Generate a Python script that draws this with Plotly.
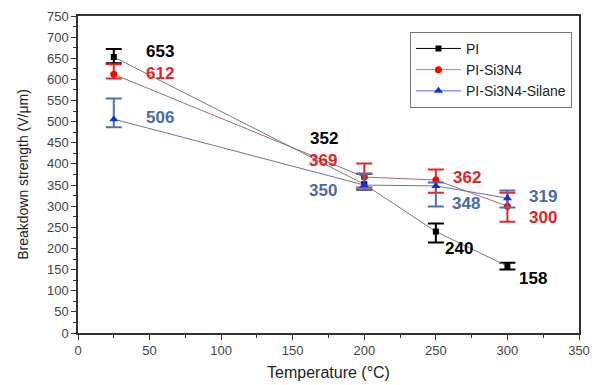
import plotly.graph_objects as go

temps = [25, 200, 250, 300]
pi_vals = [653, 352, 240, 158]
pi_err_plus = [19, 25, 19, 8]
pi_err_minus = [15, 13, 26, 8]
si_vals = [612, 369, 362, 300]
si_err_plus = [24, 32, 25, 32]
si_err_minus = [10, 25, 30, 37]
sil_vals = [506, 350, 348, 319]
sil_err_plus = [49, 27, 8, 18]
sil_err_minus = [19, 11, 49, 22]

series_names = ["PI", "PI-Si3N4", "PI-Si3N4-Silane"]

FONT = "Arial, Liberation Sans, sans-serif"

fig = go.Figure()

styles = [
    dict(vals=pi_vals, ep=pi_err_plus, em=pi_err_minus, line="#7a7a7a", mk="#000000",
         sym="square", err="#000000", txt="#000000", size=6, leg="#000000"),
    dict(vals=si_vals, ep=si_err_plus, em=si_err_minus, line="#a86a6a", mk="#ff0000",
         sym="circle", err="#e8262b", txt="#e0242a", size=7, leg="#ff6070"),
    dict(vals=sil_vals, ep=sil_err_plus, em=sil_err_minus, line="#6a70b0", mk="#1030e0",
         sym="triangle-up", err="#4f6fae", txt="#4a6aa8", size=8, leg="#6060ff"),
]

for name, s in zip(series_names, styles):
    fig.add_trace(go.Scatter(
        x=temps, y=s["vals"], name=name, mode="lines+markers", showlegend=False,
        line=dict(color=s["line"], width=1),
        marker=dict(symbol=s["sym"], size=s["size"], color=s["mk"]),
        error_y=dict(type="data", symmetric=False, array=s["ep"], arrayminus=s["em"],
                     color=s["err"], thickness=2, width=8),
    ))

for name, s in zip(series_names, styles):
    fig.add_trace(go.Scatter(
        x=[None], y=[None], name=name, mode="lines+markers", showlegend=True,
        line=dict(color=s["leg"], width=1),
        marker=dict(symbol=s["sym"], size=s["size"], color=s["mk"]),
    ))

# value label positions (x, y) in data units, per series
label_pos = [
    [(57, 665), (172, 461), (266, 199), (318, 128)],
    [(57, 615), (171, 409), (272, 367), (325, 274)],
    [(57, 511), (171, 338), (271, 307), (325, 324)],
]
for s, pos in zip(styles, label_pos):
    for v, (lx, ly) in zip(s["vals"], pos):
        fig.add_annotation(x=lx, y=ly, text=f"<b>{v}</b>", showarrow=False,
                           font=dict(family=FONT, size=17, color=s["txt"]),
                           xanchor="center", yanchor="middle")

fig.update_layout(
    width=590, height=377,
    margin=dict(l=70, r=19, t=8, b=52),
    paper_bgcolor="white", plot_bgcolor="white",
    font=dict(family=FONT, size=13, color="#333333"),
    showlegend=True,
    legend=dict(x=0.986, y=0.95, xanchor="right", yanchor="top",
                bordercolor="#777777", borderwidth=1, bgcolor="white",
                font=dict(family=FONT, size=14, color="#222222"),
                tracegroupgap=0, itemwidth=45),
    xaxis=dict(range=[0, 350], tickvals=list(range(0, 351, 50)), automargin=False,
               showgrid=False, zeroline=False, showline=True, linecolor="#333333",
               linewidth=1.5, mirror=True, ticks="outside", ticklen=5,
               tickcolor="#333333", tickfont=dict(size=13, color="#444444"),
               minor=dict(ticks="outside", ticklen=3, dtick=25, tickcolor="#333333"),
               title=dict(text="Temperature (°C)", font=dict(size=16, color="#222222"), standoff=9)),
    yaxis=dict(range=[0, 750], tickvals=list(range(0, 751, 50)), automargin=False,
               showgrid=False, zeroline=False, showline=True, linecolor="#333333",
               linewidth=1.5, mirror=True, ticks="outside", ticklen=5,
               tickcolor="#333333", tickfont=dict(size=13, color="#444444"),
               minor=dict(ticks="outside", ticklen=3, dtick=25, tickcolor="#333333"),
               title=dict(text="Breakdown strength (V/μm)", font=dict(size=14, color="#222222"), standoff=15)),
)

fig.write_html("out.html")
